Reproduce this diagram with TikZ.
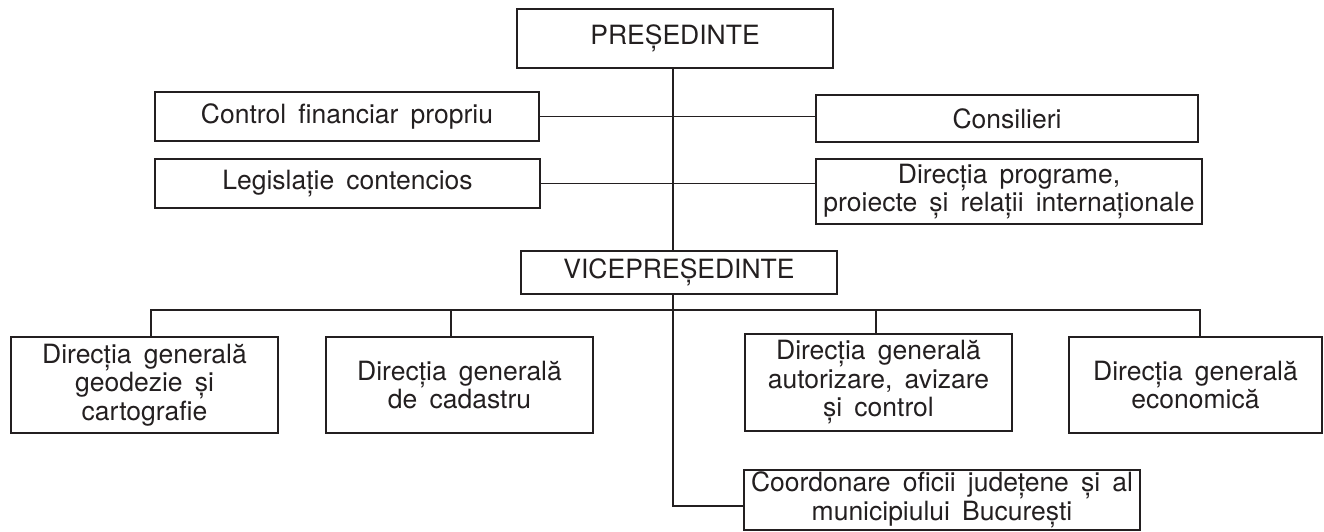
\documentclass[tikz,border=0pt]{standalone}
\usepackage{fontspec}
\setmainfont[WordSpace=1.65]{TeX Gyre Heros}
\usepackage{tikz}
\usetikzlibrary{positioning, calc}
\definecolor{InkBlack}{RGB}{35, 31, 32}
\tikzset{
  unit/.style={draw=InkBlack, line width=1.8pt, inner sep=0pt, align=center,
    text=InkBlack, font=\fontsize{26.5}{28.5}\selectfont},
  link/.style={draw=InkBlack, line width=1.8pt}
}
\begin{document}
\begin{tikzpicture}[x=1pt, y=-1pt]
            \useasboundingbox (0,0) rectangle (1324,532);
            % conducere
            \node[unit, minimum width=316pt, minimum height=59pt] (pres) at (675,38.5) {PREȘEDINTE};
            \node[unit, minimum width=384pt, minimum height=49pt] (ctrl) at (347,116.5) {Control financiar propriu};
            \node[unit, minimum width=385pt, minimum height=49pt] (legis) at (347.5,183.5) {Legislație contencios};
            \node[unit, minimum width=382pt, minimum height=47pt] (cons) at (1007,118.5) {Consilieri};
            \node[unit, minimum width=386pt, minimum height=65pt] (prog) at (1009,191.5) {Direcția programe,\\proiecte și relații internaționale};
            \node[unit, minimum width=316pt, minimum height=43pt] (vice) at (679,272.5) {VICEPREȘEDINTE};
            % directii
            \node[unit, minimum width=267pt, minimum height=96pt] (geod) at (144.5,385) {Direcția generală\\geodezie și\\cartografie};
            \node[unit, minimum width=267pt, minimum height=96pt] (cad) at (459.5,385) {Direcția generală\\de cadastru};
            \node[unit, minimum width=267pt, minimum height=97pt] (aut) at (878.5,382.5) {Direcția generală\\autorizare, avizare\\și control};
            \node[unit, minimum width=253pt, minimum height=96pt] (eco) at (1195.5,385) {Direcția generală\\economică};
            \node[unit, minimum width=396pt, minimum height=60pt] (coord) at (942,500) {Coordonare oficii județene și al\\municipiului București};
            % legaturi
            \coordinate (trunk) at (673,0);
            \coordinate (busL) at (151,310);
            \coordinate (busR) at (1200,310);
            \coordinate (dropB) at (451,310);
            \coordinate (dropC) at (876,310);
            \coordinate (low) at (673,506);
            \draw[link] (pres.south -| trunk) -- (vice.north -| trunk);
            \draw[link] (vice.south -| trunk) -- (low) -- (low -| coord.west);
            \draw[link] (ctrl.east) -- (ctrl.east -| cons.west);
            \draw[link] (legis.east) -- (legis.east -| prog.west);
            \draw[link] (busL |- geod.north) -- (busL) -- (busR) -- (busR |- eco.north);
            \draw[link] (dropB) -- (dropB |- cad.north);
            \draw[link] (dropC) -- (dropC |- aut.north);
        \end{tikzpicture}
\end{document}
